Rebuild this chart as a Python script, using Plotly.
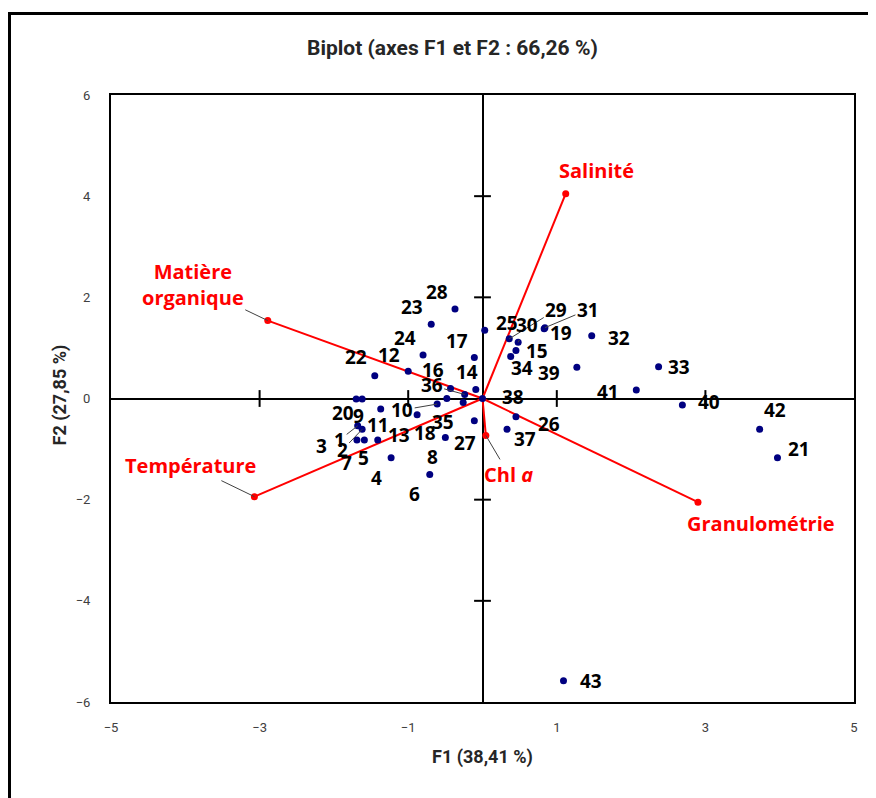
import plotly.graph_objects as go

# ---- data ----
obs_labels = [str(i) for i in range(1, 44)]
f1 = [-1.68, -1.62, -0.48, -1.23, -1.59, -0.71, -1.69, -0.50, -1.62, -0.61,
      -1.37, -1.00, -1.41, -0.09, 0.45, -0.43, -0.11, -0.88, 0.83, -1.70,
      3.97, -1.45, -0.69, -0.80, 0.03, 0.45, -0.11, -0.37, 0.36, 0.48,
      0.84, 1.47, 2.37, 0.38, -0.26, -0.24, 0.33, 0.00, 1.27, 2.69,
      2.07, 3.73, 1.09]
f2 = [-0.54, -0.61, 0.00, -1.17, -0.82, -1.50, -0.82, -0.77, -0.01, -0.11,
      -0.21, 0.54, -0.82, 0.18, 0.95, 0.20, 0.81, -0.32, 1.38, -0.01,
      -1.17, 0.45, 1.47, 0.86, 1.35, -0.36, -0.44, 1.77, 1.18, 1.11,
      1.40, 1.24, 0.63, 0.83, -0.08, 0.08, -0.61, 0.00, 0.62, -0.13,
      0.17, -0.61, -5.58]

var_names = ["Salinité", "Granulométrie", "Chl <i>a</i>", "Matière<br>organique", "Température"]
var_f1 = [1.12, 2.90, 0.045, -2.89, -3.07]
var_f2 = [4.05, -2.05, -0.73, 1.54, -1.94]

x_ticks = [-5, -3, -1, 1, 3, 5]
y_ticks = [-6, -4, -2, 0, 2, 4, 6]

# ---- label placement (pixel offsets, leader flag) ----
obs_dx = [-18, -20, -125, -15, -1, -15, -10, -13, -4, -35,
          -3, -19, 21, -9, 21, -18, -17, 8, 17, -13,
          22, -19, -19, -18, 22, 33, -9, -18, 47, 9,
          43, 27, 20, 11, -20, -33, 18, 30, -28, 27,
          -28, 15, 28]
obs_dy = [14, 21, 47, 20, 18, 20, 23, 20, 17, 6,
          16, -16, -5, -17, 1, -18, -17, 18, 4, 14,
          -9, -19, -17, -17, -7, 7, 22, -17, -29, -17,
          -18, 2, 0, 11, 19, -9, 10, -2, 6, -3,
          2, -19, 0]
leader = {"1", "2", "10", "29", "30", "31", "36"}

var_dx = [31, 63, 23, -75, -64]
var_dy = [-23, 21, 39, -36, -31]
var_leader = [False, False, True, True, True]

NUM_FONT = "Open Sans"
NARROW = "Roboto, sans-serif"

# page body has an 8px margin: figure is laid out in its own coordinates
W, H = 868, 790
L, T = 103, 87          # plot left / top inside the figure
PW, PH = 743, 607       # plot width / height

fig = go.Figure()

# variable vectors
for name, vx, vy in zip(var_names, var_f1, var_f2):
    fig.add_trace(go.Scatter(x=[0, vx], y=[0, vy], mode="lines",
                             line=dict(color="#FF0000", width=2),
                             showlegend=False, hoverinfo="skip"))
fig.add_trace(go.Scatter(x=var_f1, y=var_f2, mode="markers",
                         marker=dict(color="#FF0000", size=7),
                         showlegend=False, hoverinfo="skip"))

# tick crosses on the zero lines
xt_inner = [t for t in x_ticks if abs(t) < 5]
yt_inner = [t for t in y_ticks if 0 < abs(t) < 6]
fig.add_trace(go.Scatter(x=xt_inner, y=[0] * len(xt_inner), mode="markers",
                         marker=dict(symbol="line-ns", size=12,
                                     line=dict(color="black", width=2)),
                         showlegend=False, hoverinfo="skip"))
fig.add_trace(go.Scatter(x=[0] * len(yt_inner), y=yt_inner, mode="markers",
                         marker=dict(symbol="line-ew", size=12,
                                     line=dict(color="black", width=2)),
                         showlegend=False, hoverinfo="skip"))

# observations
fig.add_trace(go.Scatter(x=f1, y=f2, mode="markers",
                         marker=dict(color="#000080", size=7),
                         showlegend=False, text=obs_labels))

annotations = []
for lab, x, y, dx, dy in zip(obs_labels, f1, f2, obs_dx, obs_dy):
    annotations.append(dict(
        x=x, y=y, xref="x", yref="y", text=lab, showarrow=True,
        ax=dx, ay=dy, arrowhead=0, arrowwidth=1,
        arrowcolor="#404040" if lab in leader else "rgba(0,0,0,0)",
        font=dict(family=NUM_FONT, size=19, color="black", weight="bold")))
for name, x, y, dx, dy, ld in zip(var_names, var_f1, var_f2, var_dx, var_dy, var_leader):
    annotations.append(dict(
        x=x, y=y, xref="x", yref="y", text=name, showarrow=True,
        ax=dx, ay=dy, arrowhead=0, arrowwidth=1,
        arrowcolor="#404040" if ld else "rgba(0,0,0,0)",
        font=dict(family=NUM_FONT, size=20, color="#FF0000", weight="bold")))

# axis titles & chart title
annotations.append(dict(text="F1 (38,41 %)", xref="paper", yref="paper",
                        x=0.500, y=-(757 - 702) / PH, xanchor="center", yanchor="middle",
                        showarrow=False,
                        font=dict(family=NARROW, size=18, color="#262626", weight="bold")))
annotations.append(dict(text="F2 (27,85 %)", xref="paper", yref="paper",
                        x=-(111 - 60) / PW, y=0.505, xanchor="center", yanchor="middle",
                        textangle=-90, showarrow=False,
                        font=dict(family=NARROW, size=18, color="#262626", weight="bold")))
annotations.append(dict(text="Biplot (axes F1 et F2 : 66,26 %)", xref="paper", yref="paper",
                        x=(452 - 111) / PW, y=1 + (95 - 48) / PH,
                        xanchor="center", yanchor="middle", showarrow=False,
                        font=dict(family=NARROW, size=21, color="#262626", weight="bold")))

fig.update_layout(
    width=W, height=H,
    margin=dict(l=L, r=W - L - PW, t=T, b=H - T - PH),
    paper_bgcolor="white", plot_bgcolor="white",
    annotations=annotations,
    shapes=[dict(type="rect", xref="paper", yref="paper",
                 x0=(1.5 - L) / PW, x1=(W + 10 - L) / PW,
                 y0=-(H + 10 - T - PH) / PH, y1=1 + (T - 5.5) / PH,
                 line=dict(color="black", width=3), layer="below")],
    xaxis=dict(range=[-5, 5], tickvals=x_ticks, showgrid=False,
               zeroline=True, zerolinecolor="black", zerolinewidth=2,
               showline=True, mirror=True, linecolor="black", linewidth=2,
               ticks="", ticklabelstandoff=12,
               tickfont=dict(family=NARROW, size=13, color="#404040")),
    yaxis=dict(range=[-6, 6], tickvals=y_ticks, showgrid=False,
               zeroline=True, zerolinecolor="black", zerolinewidth=2,
               showline=True, mirror=True, linecolor="black", linewidth=2,
               ticks="", ticklabelstandoff=16,
               tickfont=dict(family=NARROW, size=13, color="#404040")),
)

fig.write_html("out.html")
